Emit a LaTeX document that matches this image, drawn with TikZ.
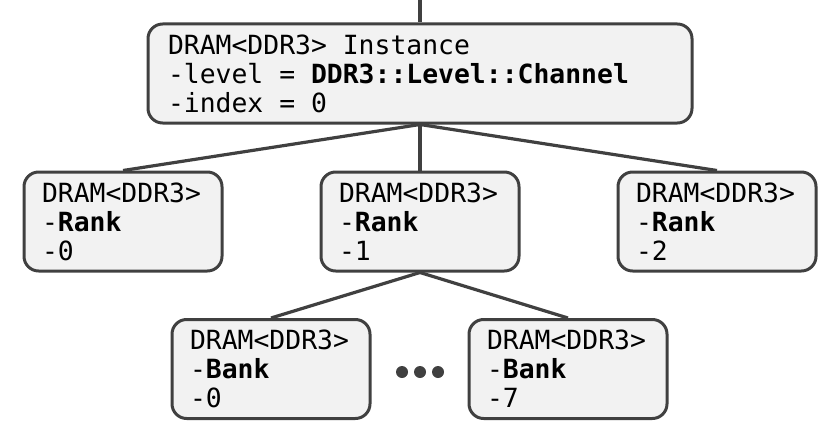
\documentclass[tikz,border=0pt]{standalone}
\usepackage{fontspec}
\setmonofont{DejaVu Sans Mono}
\definecolor{boxfill}{HTML}{F2F2F2}
\definecolor{boxline}{HTML}{404040}
\newcommand{\dramfont}{\ttfamily\fontsize{19.8pt}{21.75pt}\selectfont}
\tikzset{
  dram/.style={draw=boxline, fill=boxfill, line width=2.25pt, rounded corners=11pt,
    align=left, inner ysep=0pt, minimum height=74.25pt, font=\dramfont,
    execute at begin node={\spaceskip=0.602em\xspaceskip=0.602em\relax}},
  dramsmall/.style={dram, inner xsep=13.5pt, text width=121.5pt},
  link/.style={draw=boxline, line width=2.4pt}
}
\begin{document}
\begin{tikzpicture}[x=0.75pt, y=-0.75pt]
\useasboundingbox (0,0) rectangle (838,435);
\node[dram, inner xsep=15pt, text width=378pt] (inst) at (420,73.5)
  {DRAM<DDR3> Instance\\-level = \textbf{DDR3::Level::Channel}\\-index = 0};
\node[dramsmall] (rank0) at (123,221.5) {DRAM<DDR3>\\-\textbf{Rank}\\-0};
\node[dramsmall] (rank1) at (420,221.5) {DRAM<DDR3>\\-\textbf{Rank}\\-1};
\node[dramsmall] (rank2) at (717,221.5) {DRAM<DDR3>\\-\textbf{Rank}\\-2};
\node[dramsmall] (bank0) at (271,369) {DRAM<DDR3>\\-\textbf{Bank}\\-0};
\node[dramsmall] (bank7) at (568,369) {DRAM<DDR3>\\-\textbf{Bank}\\-7};
\coordinate (feed) at (420,0);
\draw[link] (feed) -- (inst.north);
\draw[link] (inst.south) -- (rank0.north);
\draw[link] (inst.south) -- (rank1.north);
\draw[link] (inst.south) -- (rank2.north);
\draw[link] (rank1.south) -- (bank0.north);
\draw[link] (rank1.south) -- (bank7.north);
% dots between the banks
\fill[boxline] (402,372) circle (4.5pt);
\fill[boxline] (420,372) circle (4.5pt);
\fill[boxline] (438,372) circle (4.5pt);
\end{tikzpicture}
\end{document}
